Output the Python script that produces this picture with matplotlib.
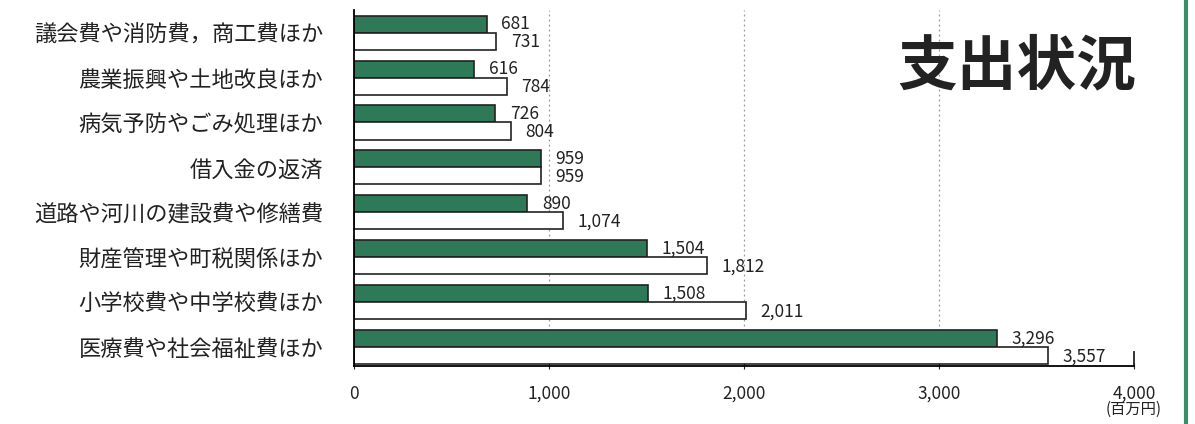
import matplotlib.pyplot as plt
import numpy as np

plt.rcParams['font.family'] = ['Noto Sans CJK JP', 'DejaVu Sans']

# データ（単位：百万円）
categories = ['議会費や消防費，商工費ほか', '農業振興や土地改良ほか', '病気予防やごみ処理ほか',
              '借入金の返済', '道路や河川の建設費や修繕費', '財産管理や町税関係ほか',
              '小学校費や中学校費ほか', '医療費や社会福祉費ほか']
green_vals = [681, 616, 726, 959, 890, 1504, 1508, 3296]
white_vals = [731, 784, 804, 959, 1074, 1812, 2011, 3557]
xticks = [0, 1000, 2000, 3000, 4000]

green = '#2e7a58'

fig = plt.figure(figsize=(11.95, 4.24), dpi=100)
ax = fig.add_axes([0.296, 0.137, 0.653, 0.84])

y = np.arange(len(categories))
h = 0.38
ax.barh(y - h / 2, green_vals, height=h, color=green, edgecolor='#222222', linewidth=1.2)
ax.barh(y + h / 2, white_vals, height=h, color='white', edgecolor='#222222', linewidth=1.2)

for yi, g, w in zip(y, green_vals, white_vals):
    ax.text(g + 75, yi - h / 2, f'{g:,}', va='center', ha='left', fontsize=12.5, color='#222222')
    ax.text(w + 75, yi + h / 2 + 0.02, f'{w:,}', va='center', ha='left', fontsize=12.5, color='#222222')

# 点線のグリッド
for xv in xticks[1:-1]:
    ax.axvline(xv, color='#999999', linestyle=(0, (1.5, 2.5)), linewidth=0.9, zorder=0)

ax.set_xlim(0, 4000)
ax.set_ylim(len(categories) - 1 + 0.42, -0.51)
ax.set_yticks(y)
ax.set_yticklabels(categories, fontsize=16, color='#222222')
ax.set_xticks(xticks)
ax.set_xticklabels([f'{v:,}' for v in xticks], fontsize=12.5, color='#222222')
ax.tick_params(axis='y', length=0, pad=22)
ax.tick_params(axis='x', length=5, direction='inout', pad=11, color='#222222')

for s in ['top', 'right']:
    ax.spines[s].set_visible(False)
ax.spines['left'].set_linewidth(1.3)
ax.spines['bottom'].set_linewidth(1.3)
ax.plot([4000, 4000], [len(categories) - 1 + 0.42, len(categories) - 1 + 0.1],
        color='#222222', linewidth=1.3, clip_on=False)

ax.text(4000, -0.098, '(百万円)', transform=ax.get_xaxis_transform(),
        ha='center', va='top', fontsize=11, color='#222222')

fig.text(0.851, 0.84, '支出状況', ha='center', va='center', fontsize=43,
         fontweight='bold', color='#222222')

# 右側の緑の枠線
fig.add_artist(plt.Line2D([0.9925, 0.9925], [0, 1], color='#3d8c6c', linewidth=3,
                          transform=fig.transFigure))

fig.savefig('out.png', dpi=100, facecolor='white')
